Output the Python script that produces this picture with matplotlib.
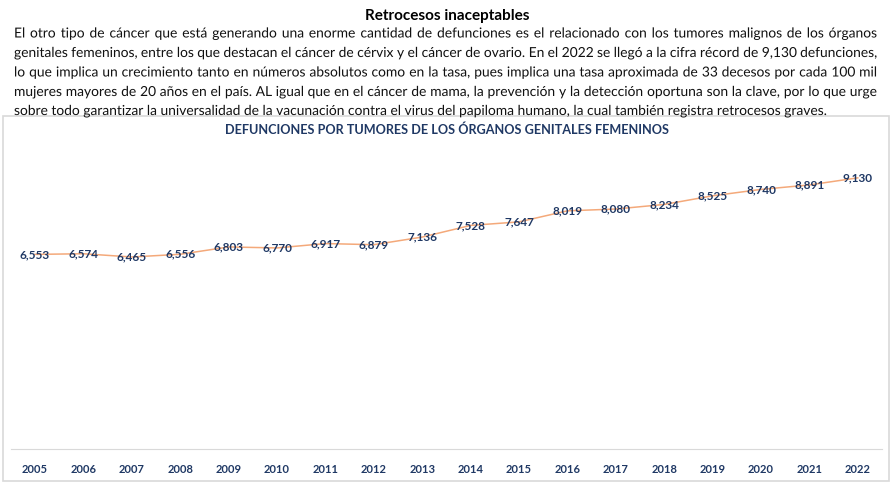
import matplotlib
matplotlib.use("Agg")
from matplotlib import pyplot as plt
from matplotlib import font_manager
from matplotlib.patches import Rectangle, PathPatch
from matplotlib.textpath import TextPath
from matplotlib.transforms import Affine2D

years = [str(y) for y in range(2005, 2023)]
deaths = [6553, 6574, 6465, 6556, 6803, 6770, 6917, 6879, 7136,
          7528, 7647, 8019, 8080, 8234, 8525, 8740, 8891, 9130]

page_title = "Retrocesos inaceptables"
paragraph = [
    "El otro tipo de cáncer que está generando una enorme cantidad de defunciones es el relacionado con los tumores malignos de los órganos",
    "genitales femeninos, entre los que destacan el cáncer de cérvix y el cáncer de ovario. En el 2022 se llegó a la cifra récord de 9,130 defunciones,",
    "lo que implica un crecimiento tanto en números absolutos como en la tasa, pues implica una tasa aproximada de 33 decesos por cada 100 mil",
    "mujeres mayores de 20 años en el país. AL igual que en el cáncer de mama, la prevención y la detección oportuna son la clave, por lo que urge",
    "sobre todo garantizar la universalidad de la vacunación contra el virus del papiloma humano, la cual también registra retrocesos graves.",
]
chart_title = "DEFUNCIONES POR TUMORES DE LOS ÓRGANOS GENITALES FEMENINOS"

installed = {f.name for f in font_manager.fontManager.ttflist}
font = "Lato" if "Lato" in installed else "DejaVu Sans"
fam = [font, "DejaVu Sans"]

navy = "#1F3864"
W, H = 894, 484

fig = plt.figure(figsize=(W / 100, H / 100), dpi=100)
fig.patch.set_facecolor("white")

# chart frame
fig.patches.append(Rectangle((3 / W, 3 / H), 886 / W, 365 / H, transform=fig.transFigure,
                             fill=False, edgecolor="#D9D9D9", linewidth=1.2))

fig.text(447 / W, 1 - 20 / H, page_title, ha="center", va="baseline",
         fontsize=11, fontweight="bold", family=fam)

# justified paragraph drawn as text paths so every word shares one baseline
renderer = fig.canvas.get_renderer()
left, right = 14, 877
baselines = [37.5, 57, 76.5, 96, 115]
fp = font_manager.FontProperties(family=fam, size=10)
w_last = renderer.get_text_width_height_descent(paragraph[-1], fp, ismath=False)[0]
fs = 10 * (828 - left) / w_last
fp.set_size(fs)
px = fs * 100 / 72
pix = Affine2D().scale(1 / W, 1 / H) + fig.transFigure


def put(x, y, s):
    tp = TextPath((x, H - y), s, size=px, prop=fp)
    fig.patches.append(PathPatch(tp, transform=pix, facecolor="#111111",
                                 edgecolor="none", lw=0))


for i, line in enumerate(paragraph):
    if i == len(paragraph) - 1:
        put(left, baselines[i], line)
        continue
    words = line.split(" ")
    widths = [renderer.get_text_width_height_descent(w, fp, ismath=False)[0] for w in words]
    gap = (right - left - sum(widths)) / (len(words) - 1)
    x = left
    for w, wd in zip(words, widths):
        put(x, baselines[i], w)
        x += wd + gap

ax = fig.add_axes([10.8 / W, 35 / H, 871.2 / W, 297 / H])
x = list(range(len(years)))
ax.plot(x, deaths, color="#F4A97A", linewidth=1.1, zorder=1)
for xi, v in zip(x, deaths):
    ax.text(xi, v, f"{v:,}", ha="center", va="center", fontsize=8.5, fontweight="bold",
            color=navy, family=fam, zorder=3)

ax.set_xlim(-0.5, len(years) - 0.5)
ax.set_ylim(0, 10000)
ax.set_xticks(x)
ax.set_xticklabels(years, fontsize=8, fontweight="bold", color=navy, family=fam)
ax.tick_params(axis="x", length=0, pad=11)
ax.set_yticks([])
for s in ["top", "left", "right"]:
    ax.spines[s].set_visible(False)
ax.spines["bottom"].set_color("#D9D9D9")
ax.patch.set_alpha(0)

fig.text(447 / W, 1 - 130 / H, chart_title, ha="center", va="center", fontsize=9.1,
         fontweight="bold", color=navy, family=fam)

fig.savefig("out.png", dpi=100)
